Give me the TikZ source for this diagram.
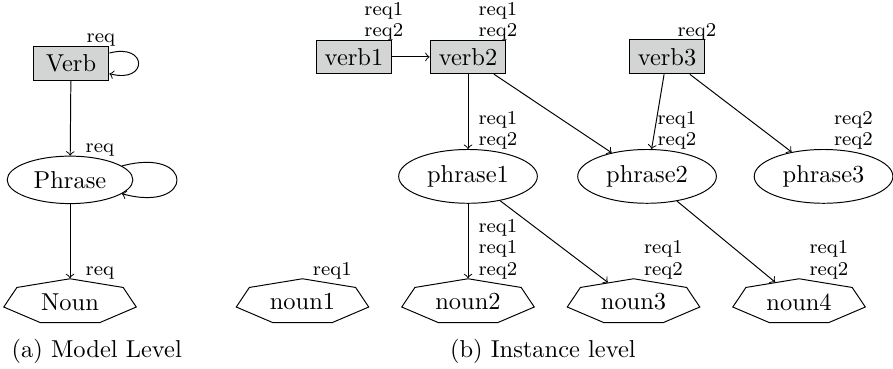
\documentclass[tikz,border=0pt]{standalone}
\usetikzlibrary{shapes.geometric}

\definecolor{verbgray}{RGB}{211,212,212}

\begin{document}
\begin{tikzpicture}[
  >=to,
  verb/.style={draw, fill=verbgray, minimum width=31pt},
  phrase/.style={draw, ellipse},
  noun/.style={draw, regular polygon, regular polygon sides=7, minimum size=18.9pt, inner sep=0pt, xscale=2.94},
  reqs/.style={font=\fontsize{8}{8.8}\selectfont, align=center, anchor=south, inner sep=0pt, yshift=-0.5pt}
]

  \useasboundingbox (0,0) rectangle (12.83,5.30);

  % (a) model level
  \node[verb] (Verb) at (1.02,4.39) {Verb};
  \node[phrase] (Phrase) at (1.006,2.716) {Phrase};
  \node[noun] (Noun) at (1.006,0.963) {};
  \node (Noun-name) at (Noun) {Noun};

  \draw[->] (Verb) to[loop right, looseness=5] (Verb);
  \draw[->] (Phrase) to[loop right, looseness=7] (Phrase);
  \draw[->] (Verb) -- (Phrase);
  \draw[->] (Phrase) -- (Noun);

  \node[reqs] (Verb-req) at ([xshift=12.2pt]Verb.north) {req};
  \node[reqs] (Phrase-req) at ([xshift=12.2pt]Phrase.north) {req};
  \node[reqs] (Noun-req) at ([xshift=12.2pt]Noun.north) {req};

  % (b) instance level
  \node[verb] (verb1) at (5.086,4.483) {verb1};
  \node[verb] (verb2) at (6.724,4.483) {verb2};
  \node[verb] (verb3) at (9.583,4.483) {verb3};

  \node[phrase] (phrase1) at (6.724,2.766) {phrase1};
  \node[phrase] (phrase2) at (9.296,2.766) {phrase2};
  \node[phrase] (phrase3) at (11.832,2.766) {phrase3};

  \foreach \name/\x in {noun1/4.346, noun2/6.724, noun3/9.102, noun4/11.480} {
    \node[noun] (\name) at (\x,0.963) {};
    \node (\name-name) at (\name) {\name};
  }

  \draw[->] (verb1) -- (verb2);
  \draw[->] (verb2) -- (phrase1);
  \draw[->] (verb2) -- (phrase2);
  \draw[->] (verb3) -- (phrase2);
  \draw[->] (verb3) -- (phrase3);
  \draw[->] (phrase1) -- (noun2);
  \draw[->] (phrase1) -- (noun3);
  \draw[->] (phrase2) -- (noun4);

  % requirement labels
  \node[reqs] (verb1-req) at ([xshift=12.2pt]verb1.north) {req1\\req2};
  \node[reqs] (verb2-req) at ([xshift=12.2pt]verb2.north) {req1\\req2};
  \node[reqs] (verb3-req) at ([xshift=12.2pt]verb3.north) {req2};
  \node[reqs] (phrase1-req) at ([xshift=12.2pt]phrase1.north) {req1\\req2};
  \node[reqs] (phrase2-req) at ([xshift=12.2pt]phrase2.north) {req1\\req2};
  \node[reqs] (phrase3-req) at ([xshift=12.2pt]phrase3.north) {req2\\req2};
  \node[reqs] (noun1-req) at ([xshift=12.2pt]noun1.north) {req1};
  \node[reqs] (noun2-req) at ([xshift=12.2pt]noun2.north) {req1\\req1\\req2};
  \node[reqs] (noun3-req) at ([xshift=12.2pt]noun3.north) {req1\\req2};
  \node[reqs] (noun4-req) at ([xshift=12.2pt]noun4.north) {req1\\req2};

  % captions
  \node (cap-a) at (1.39,0.25) {(a) Model Level};
  \node (cap-b) at (7.80,0.25) {(b) Instance level};

\end{tikzpicture}
\end{document}
